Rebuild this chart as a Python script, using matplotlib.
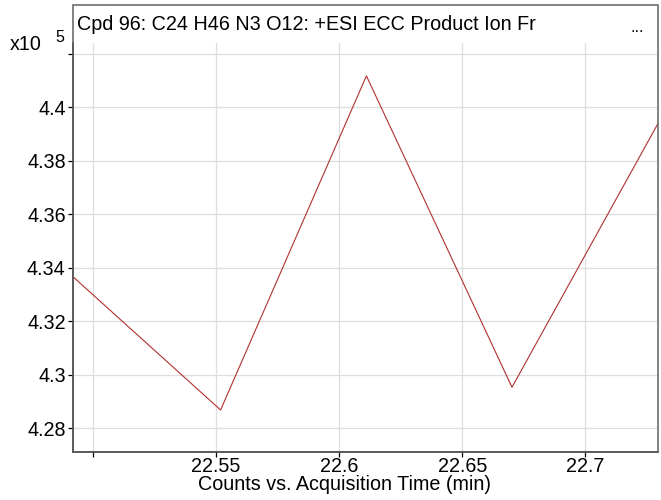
import matplotlib
matplotlib.use('Agg')
import matplotlib.pyplot as plt
from matplotlib.patches import Rectangle

# acquisition time (min) and counts (x10^5)
times = [22.4921, 22.5519, 22.6111, 22.6702, 22.7296]
counts = [4.3365, 4.2868, 4.4117, 4.2953, 4.3941]

yticks = [4.28, 4.30, 4.32, 4.34, 4.36, 4.38, 4.40, 4.42]
xticks = [22.50, 22.55, 22.60, 22.65, 22.70]

title = 'Cpd 96: C24 H46 N3 O12: +ESI ECC Product Ion Fr'
xlabel = 'Counts vs. Acquisition Time (min)'

plt.rcParams['font.family'] = 'Liberation Sans'
fs = 14.2

W, H = 661, 500
fig = plt.figure(figsize=(W / 100, H / 100), dpi=100)

# plot area in pixels
left, right, bottom, top, frame_top = 73.3, 658.3, 451.7, 42.7, 4.7
ax = fig.add_axes([left / W, 1 - bottom / H, (right - left) / W, (bottom - top) / H])

ax.plot(times, counts, color='#b03030', linewidth=0.8)

ax.set_xlim(times[0], times[-1])
ax.set_ylim(4.2712, 4.4241)

ax.set_xticks(xticks)
ax.set_xticklabels(['' if t == 22.50 else f'{t:g}' for t in xticks])
ax.set_yticks(yticks)
ax.set_yticklabels(['' if t == 4.42 else f'{t:g}' for t in yticks])

ax.grid(True, color='#dedede', linewidth=0.9)
ax.set_axisbelow(True)
ax.tick_params(direction='out', length=3.5, width=0.9, labelsize=fs, pad=2, colors='black')
ax.tick_params(axis='x', pad=0.5)

for side in ['top', 'right']:
    ax.spines[side].set_visible(False)
for side in ['left', 'bottom']:
    ax.spines[side].set_color('#202020')
    ax.spines[side].set_linewidth(1.1)

# outer frame including the title strip
fig.patches.append(Rectangle((left / W, 1 - bottom / H), (right - left) / W, (bottom - frame_top) / H,
                             transform=fig.transFigure, fill=False, edgecolor='#606060',
                             linewidth=1.1, zorder=0))

fig.text(77 / W, 1 - 24 / H, title, fontsize=fs, va='center', ha='left')
fig.text(631 / W, 1 - 28 / H, '...', fontsize=12, va='center', ha='left')
fig.text(10 / W, 1 - 45 / H, 'x10', fontsize=fs, va='center', ha='left')
fig.text(55 / W, 1 - 37 / H, '5', fontsize=11.5, va='center', ha='left')

fig.text(345 / W, 1 - 485 / H, xlabel, fontsize=fs, va='center', ha='center')

fig.savefig('out.png', dpi=100)
